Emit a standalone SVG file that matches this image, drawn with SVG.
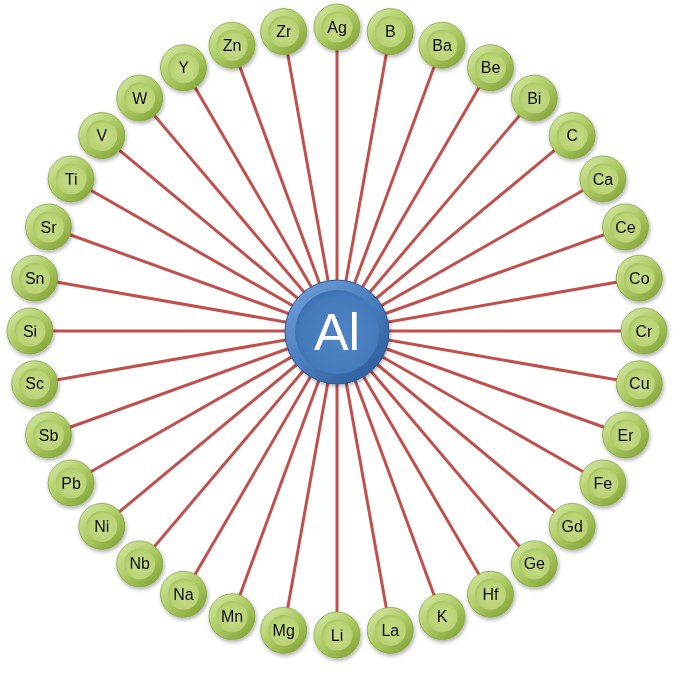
<svg xmlns="http://www.w3.org/2000/svg" width="676" height="676" viewBox="0 0 676 676">
<defs>
<linearGradient id="gOut" x1="0.15" y1="0.1" x2="0.85" y2="0.9">
<stop offset="0" stop-color="#cfe39a"/>
<stop offset="0.5" stop-color="#acc962"/>
<stop offset="1" stop-color="#87a73c"/>
</linearGradient>
<radialGradient id="gIn" cx="0.55" cy="0.55" r="0.6">
<stop offset="0" stop-color="#c9dd8e"/>
<stop offset="0.75" stop-color="#b8d273"/>
<stop offset="1" stop-color="#a2c057"/>
</radialGradient>
<linearGradient id="bOut" x1="0.15" y1="0.1" x2="0.85" y2="0.9">
<stop offset="0" stop-color="#6a9ad6"/>
<stop offset="0.5" stop-color="#4a7dbd"/>
<stop offset="1" stop-color="#2f5f9e"/>
</linearGradient>
<radialGradient id="bIn" cx="0.55" cy="0.55" r="0.6">
<stop offset="0" stop-color="#4f85c6"/>
<stop offset="0.8" stop-color="#4479ba"/>
<stop offset="1" stop-color="#3a6dae"/>
</radialGradient>
<filter id="sh" x="-30%" y="-30%" width="160%" height="160%">
<feGaussianBlur in="SourceAlpha" stdDeviation="2"/>
<feOffset dx="1" dy="2" result="b"/>
<feComponentTransfer><feFuncA type="linear" slope="0.35"/></feComponentTransfer>
<feMerge><feMergeNode/><feMergeNode in="SourceGraphic"/></feMerge>
</filter>
</defs>
<style>
.ln{stroke:#c0504d;stroke-width:3;}
.o{fill:url(#gOut);stroke:#88a842;stroke-width:0.8;}
.i{fill:url(#gIn);}
.t{font-family:"Liberation Sans",Arial,sans-serif;font-size:16px;fill:#0d0d0d;text-anchor:middle;dominant-baseline:central;}
.ao{fill:url(#bOut);stroke:#2d5a96;stroke-width:1;}
.ai{fill:url(#bIn);}
.at{font-family:"Liberation Sans",Arial,sans-serif;font-size:52px;fill:#fff;text-anchor:middle;dominant-baseline:central;}
</style>
<rect width="676" height="676" fill="#fff"/>
<g id="connectors">
<line class="ln" x1="337" y1="331" x2="337" y2="27"/>
<line class="ln" x1="337" y1="331" x2="390.3" y2="31.6"/>
<line class="ln" x1="337" y1="331" x2="442" y2="45.3"/>
<line class="ln" x1="337" y1="331" x2="490.5" y2="67.7"/>
<line class="ln" x1="337" y1="331" x2="534.3" y2="98.1"/>
<line class="ln" x1="337" y1="331" x2="572.2" y2="135.6"/>
<line class="ln" x1="337" y1="331" x2="602.9" y2="179"/>
<line class="ln" x1="337" y1="331" x2="625.5" y2="227"/>
<line class="ln" x1="337" y1="331" x2="639.3" y2="278.2"/>
<line class="ln" x1="337" y1="331" x2="644" y2="331"/>
<line class="ln" x1="337" y1="331" x2="639.3" y2="383.8"/>
<line class="ln" x1="337" y1="331" x2="625.5" y2="435"/>
<line class="ln" x1="337" y1="331" x2="602.9" y2="483"/>
<line class="ln" x1="337" y1="331" x2="572.2" y2="526.4"/>
<line class="ln" x1="337" y1="331" x2="534.3" y2="563.9"/>
<line class="ln" x1="337" y1="331" x2="490.5" y2="594.3"/>
<line class="ln" x1="337" y1="331" x2="442" y2="616.7"/>
<line class="ln" x1="337" y1="331" x2="390.3" y2="630.4"/>
<line class="ln" x1="337" y1="331" x2="337" y2="635"/>
<line class="ln" x1="337" y1="331" x2="283.7" y2="630.4"/>
<line class="ln" x1="337" y1="331" x2="232" y2="616.7"/>
<line class="ln" x1="337" y1="331" x2="183.5" y2="594.3"/>
<line class="ln" x1="337" y1="331" x2="139.7" y2="563.9"/>
<line class="ln" x1="337" y1="331" x2="101.8" y2="526.4"/>
<line class="ln" x1="337" y1="331" x2="71.1" y2="483"/>
<line class="ln" x1="337" y1="331" x2="48.5" y2="435"/>
<line class="ln" x1="337" y1="331" x2="34.7" y2="383.8"/>
<line class="ln" x1="337" y1="331" x2="30" y2="331"/>
<line class="ln" x1="337" y1="331" x2="34.7" y2="278.2"/>
<line class="ln" x1="337" y1="331" x2="48.5" y2="227"/>
<line class="ln" x1="337" y1="331" x2="71.1" y2="179"/>
<line class="ln" x1="337" y1="331" x2="101.8" y2="135.6"/>
<line class="ln" x1="337" y1="331" x2="139.7" y2="98.1"/>
<line class="ln" x1="337" y1="331" x2="183.5" y2="67.7"/>
<line class="ln" x1="337" y1="331" x2="232" y2="45.3"/>
<line class="ln" x1="337" y1="331" x2="283.7" y2="31.6"/>
</g>
<g id="n-Ag" transform="translate(337,27)" filter="url(#sh)"><circle class="o" r="23"/><circle class="i" r="15.5"/><text class="t">Ag</text></g>
<g id="n-B" transform="translate(390.3,31.6)" filter="url(#sh)"><circle class="o" r="23"/><circle class="i" r="15.5"/><text class="t">B</text></g>
<g id="n-Ba" transform="translate(442,45.3)" filter="url(#sh)"><circle class="o" r="23"/><circle class="i" r="15.5"/><text class="t">Ba</text></g>
<g id="n-Be" transform="translate(490.5,67.7)" filter="url(#sh)"><circle class="o" r="23"/><circle class="i" r="15.5"/><text class="t">Be</text></g>
<g id="n-Bi" transform="translate(534.3,98.1)" filter="url(#sh)"><circle class="o" r="23"/><circle class="i" r="15.5"/><text class="t">Bi</text></g>
<g id="n-C" transform="translate(572.2,135.6)" filter="url(#sh)"><circle class="o" r="23"/><circle class="i" r="15.5"/><text class="t">C</text></g>
<g id="n-Ca" transform="translate(602.9,179)" filter="url(#sh)"><circle class="o" r="23"/><circle class="i" r="15.5"/><text class="t">Ca</text></g>
<g id="n-Ce" transform="translate(625.5,227)" filter="url(#sh)"><circle class="o" r="23"/><circle class="i" r="15.5"/><text class="t">Ce</text></g>
<g id="n-Co" transform="translate(639.3,278.2)" filter="url(#sh)"><circle class="o" r="23"/><circle class="i" r="15.5"/><text class="t">Co</text></g>
<g id="n-Cr" transform="translate(644,331)" filter="url(#sh)"><circle class="o" r="23"/><circle class="i" r="15.5"/><text class="t">Cr</text></g>
<g id="n-Cu" transform="translate(639.3,383.8)" filter="url(#sh)"><circle class="o" r="23"/><circle class="i" r="15.5"/><text class="t">Cu</text></g>
<g id="n-Er" transform="translate(625.5,435)" filter="url(#sh)"><circle class="o" r="23"/><circle class="i" r="15.5"/><text class="t">Er</text></g>
<g id="n-Fe" transform="translate(602.9,483)" filter="url(#sh)"><circle class="o" r="23"/><circle class="i" r="15.5"/><text class="t">Fe</text></g>
<g id="n-Gd" transform="translate(572.2,526.4)" filter="url(#sh)"><circle class="o" r="23"/><circle class="i" r="15.5"/><text class="t">Gd</text></g>
<g id="n-Ge" transform="translate(534.3,563.9)" filter="url(#sh)"><circle class="o" r="23"/><circle class="i" r="15.5"/><text class="t">Ge</text></g>
<g id="n-Hf" transform="translate(490.5,594.3)" filter="url(#sh)"><circle class="o" r="23"/><circle class="i" r="15.5"/><text class="t">Hf</text></g>
<g id="n-K" transform="translate(442,616.7)" filter="url(#sh)"><circle class="o" r="23"/><circle class="i" r="15.5"/><text class="t">K</text></g>
<g id="n-La" transform="translate(390.3,630.4)" filter="url(#sh)"><circle class="o" r="23"/><circle class="i" r="15.5"/><text class="t">La</text></g>
<g id="n-Li" transform="translate(337,635)" filter="url(#sh)"><circle class="o" r="23"/><circle class="i" r="15.5"/><text class="t">Li</text></g>
<g id="n-Mg" transform="translate(283.7,630.4)" filter="url(#sh)"><circle class="o" r="23"/><circle class="i" r="15.5"/><text class="t">Mg</text></g>
<g id="n-Mn" transform="translate(232,616.7)" filter="url(#sh)"><circle class="o" r="23"/><circle class="i" r="15.5"/><text class="t">Mn</text></g>
<g id="n-Na" transform="translate(183.5,594.3)" filter="url(#sh)"><circle class="o" r="23"/><circle class="i" r="15.5"/><text class="t">Na</text></g>
<g id="n-Nb" transform="translate(139.7,563.9)" filter="url(#sh)"><circle class="o" r="23"/><circle class="i" r="15.5"/><text class="t">Nb</text></g>
<g id="n-Ni" transform="translate(101.8,526.4)" filter="url(#sh)"><circle class="o" r="23"/><circle class="i" r="15.5"/><text class="t">Ni</text></g>
<g id="n-Pb" transform="translate(71.1,483)" filter="url(#sh)"><circle class="o" r="23"/><circle class="i" r="15.5"/><text class="t">Pb</text></g>
<g id="n-Sb" transform="translate(48.5,435)" filter="url(#sh)"><circle class="o" r="23"/><circle class="i" r="15.5"/><text class="t">Sb</text></g>
<g id="n-Sc" transform="translate(34.7,383.8)" filter="url(#sh)"><circle class="o" r="23"/><circle class="i" r="15.5"/><text class="t">Sc</text></g>
<g id="n-Si" transform="translate(30,331)" filter="url(#sh)"><circle class="o" r="23"/><circle class="i" r="15.5"/><text class="t">Si</text></g>
<g id="n-Sn" transform="translate(34.7,278.2)" filter="url(#sh)"><circle class="o" r="23"/><circle class="i" r="15.5"/><text class="t">Sn</text></g>
<g id="n-Sr" transform="translate(48.5,227)" filter="url(#sh)"><circle class="o" r="23"/><circle class="i" r="15.5"/><text class="t">Sr</text></g>
<g id="n-Ti" transform="translate(71.1,179)" filter="url(#sh)"><circle class="o" r="23"/><circle class="i" r="15.5"/><text class="t">Ti</text></g>
<g id="n-V" transform="translate(101.8,135.6)" filter="url(#sh)"><circle class="o" r="23"/><circle class="i" r="15.5"/><text class="t">V</text></g>
<g id="n-W" transform="translate(139.7,98.1)" filter="url(#sh)"><circle class="o" r="23"/><circle class="i" r="15.5"/><text class="t">W</text></g>
<g id="n-Y" transform="translate(183.5,67.7)" filter="url(#sh)"><circle class="o" r="23"/><circle class="i" r="15.5"/><text class="t">Y</text></g>
<g id="n-Zn" transform="translate(232,45.3)" filter="url(#sh)"><circle class="o" r="23"/><circle class="i" r="15.5"/><text class="t">Zn</text></g>
<g id="n-Zr" transform="translate(283.7,31.6)" filter="url(#sh)"><circle class="o" r="23"/><circle class="i" r="15.5"/><text class="t">Zr</text></g>
<g id="n-Al" transform="translate(337,332)" filter="url(#sh)"><circle class="ao" r="52"/><circle class="ai" r="42"/><text class="at">Al</text></g>
</svg>
